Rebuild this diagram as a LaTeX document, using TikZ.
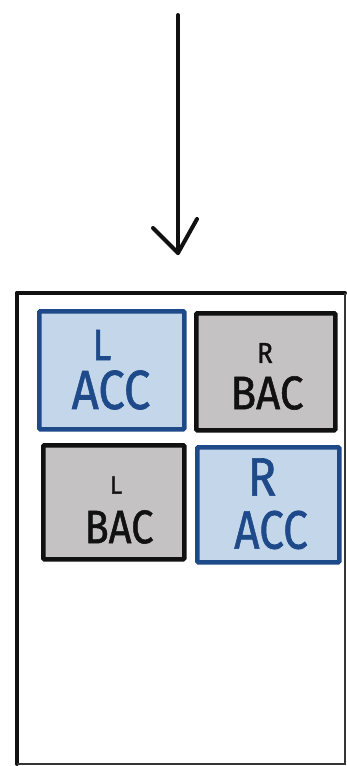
\documentclass[tikz,border=0pt]{standalone}
\usepackage{fontspec}
\setmainfont{Fira Sans}
\newfontfamily\handfont[FakeBold=1.2]{Fira Sans}
\definecolor{accblue}{HTML}{1E4A8A}
\definecolor{accfill}{HTML}{C4D6EA}
\definecolor{bacfill}{HTML}{C4C2C2}
\definecolor{inkblack}{HTML}{111111}
\tikzset{
  cell/.style={draw, line width=4.5pt, rounded corners=1pt, inner sep=0pt, anchor=north west},
  acc/.style={cell, draw=accblue, fill=accfill},
  bac/.style={cell, draw=inkblack, fill=bacfill},
  lbl/.style={inner sep=0pt, anchor=center},
  ink/.style={line width=4pt, line cap=round, line join=round, draw=inkblack},
}
\newcommand{\hand}[3]{\handfont\fontsize{#1}{#1}\selectfont\scalebox{#2}[1]{#3}}
\begin{document}
\begin{tikzpicture}[x=1pt, y=-1pt]
\useasboundingbox (0,0) rectangle (347,766);

% incoming arrow
\coordinate (arrtop) at (178,15);
\coordinate (arrtip) at (178,253);
\coordinate (armL) at (153,228);
\coordinate (armR) at (197,219);
\draw[ink] (arrtop) -- (arrtip);
\draw[ink] (armL) -- (arrtip) -- (armR);

% container frame
\coordinate (tl) at (17,293);
\coordinate (tr) at (345,293);
\coordinate (bl) at (17,764);
\coordinate (br) at (345,764);
\draw[ink] (tl) -- (tr);
\draw[ink] (tl) -- (bl);
\draw[line width=1.6pt, draw=inkblack!85] (tr) -- (br) -- (bl);

% cells
\node[acc, minimum width=145pt, minimum height=118pt] (lacc) at (37,309) {};
\node[bac, minimum width=139pt, minimum height=117pt] (rbac) at (194,311) {};
\node[bac, minimum width=141pt, minimum height=114pt] (lbac) at (41,443) {};
\node[acc, minimum width=142pt, minimum height=115pt] (racc) at (195,445) {};

% labels
\node[lbl, text=accblue] (laccL) at (102,345) {\hand{44}{0.85}{L}};
\node[lbl, text=accblue] (laccT) at (111,390) {\hand{55}{0.86}{ACC}};

\node[lbl, text=inkblack] (rbacR) at (265,353) {\hand{29}{0.9}{R}};
\node[lbl, text=inkblack] (rbacT) at (267,393) {\hand{47}{0.9}{BAC}};

\node[lbl, text=inkblack] (lbacL) at (116,485) {\hand{25}{1}{L}};
\node[lbl, text=inkblack] (lbacT) at (119,527) {\hand{47}{0.85}{BAC}};

\node[lbl, text=accblue] (raccR) at (262,477) {\hand{54}{0.88}{R}};
\node[lbl, text=accblue] (raccT) at (271,530) {\hand{54}{0.82}{ACC}};
\end{tikzpicture}
\end{document}
